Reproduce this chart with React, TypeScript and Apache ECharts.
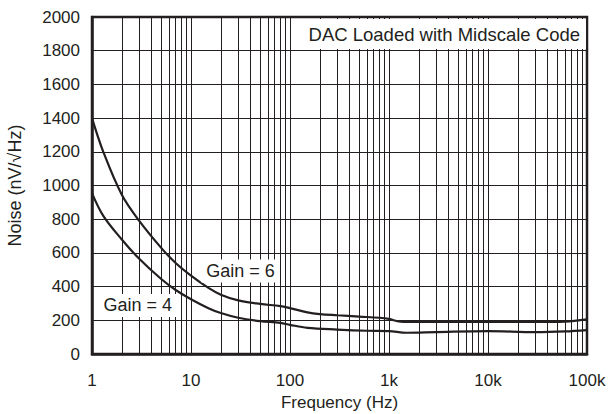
import React, { useEffect, useRef } from "react";
import * as echarts from "echarts";

const freqGain6 = [1, 1.3, 2, 3, 5, 7, 10, 15, 20, 30, 50, 80, 100, 150, 200, 300, 500, 800, 1000, 1300, 2000, 5000, 10000, 30000, 60000, 100000];
const noiseGain6 = [1400, 1200, 945, 790, 630, 540, 465, 392, 352, 318, 297, 284, 272, 247, 237, 230, 222, 215, 208, 192, 190, 190, 190, 190, 192, 205];

const freqGain4 = [1, 1.3, 2, 3, 5, 7, 10, 15, 20, 30, 50, 80, 100, 150, 300, 600, 1000, 1500, 3000, 10000, 30000, 60000, 100000];
const noiseGain4 = [955, 820, 680, 565, 445, 380, 325, 272, 243, 215, 195, 185, 173, 155, 145, 138, 136, 126, 130, 136, 130, 134, 142];

const xTickValues = [1, 10, 100, 1000, 10000, 100000];
const xTickLabels = ["1", "10", "100", "1k", "10k", "100k"];
const decades = [1, 10, 100, 1000, 10000];
const minorMultipliers = [2, 3, 4, 5, 6, 7, 8, 9];

const curveLabels = [
  { name: "Gain = 6", value: [31.6, 492] },
  { name: "Gain = 4", value: [2.9, 288] },
];

const TXT = "#231f20";
const FONT = "'Liberation Sans', Arial, Helvetica, sans-serif";

export default function App() {
  const ref = useRef<HTMLDivElement>(null);
  useEffect(() => {
    if (!ref.current) return;
    const chart = echarts.init(ref.current, undefined, { renderer: "svg" });
    const minorLines: any[] = [];
    decades.forEach((d) => minorMultipliers.forEach((m) => minorLines.push({ xAxis: d * m })));
    const toPairs = (xs: number[], ys: number[]) => xs.map((x, i) => [x, ys[i]]);
    chart.setOption({
      animation: false,
      textStyle: { fontFamily: FONT, color: TXT },
      title: {
        text: "DAC Loaded with Midscale Code",
        right: 25,
        top: 19,
        backgroundColor: "#fff",
        padding: [6, 6, 5, 6],
        textStyle: { fontFamily: FONT, fontSize: 18.5, fontWeight: "normal", color: TXT },
      },
      grid: {
        left: 92,
        right: 24,
        top: 17,
        bottom: 60,
        show: true,
        borderColor: TXT,
        borderWidth: 2.5,
        backgroundColor: "#fff",
        outerBoundsMode: "none",
        containLabel: false,
      },
      xAxis: {
        type: "log",
        logBase: 10,
        min: 1,
        max: 100000,
        name: "Frequency (Hz)",
        nameLocation: "middle",
        nameGap: 38,
        nameTextStyle: { fontFamily: FONT, fontSize: 17, color: TXT },
        axisLine: { show: true, lineStyle: { color: TXT, width: 2.5 } },
        axisTick: { show: false },
        axisLabel: {
          fontFamily: FONT,
          fontSize: 17,
          color: TXT,
          margin: 18,
          formatter: (v: number) => {
            const i = xTickValues.findIndex((t) => Math.abs(t - v) / t < 1e-6);
            return i >= 0 ? xTickLabels[i] : "";
          },
        },
        splitLine: { show: true, lineStyle: { color: TXT, width: 1 } },
      },
      yAxis: {
        type: "value",
        min: 0,
        max: 2000,
        interval: 200,
        name: "Noise (nV/√Hz)",
        nameLocation: "middle",
        nameGap: 68,
        nameTextStyle: { fontFamily: FONT, fontSize: 18, color: TXT },
        axisLine: { show: true, lineStyle: { color: TXT, width: 2.5 } },
        axisTick: { show: false },
        axisLabel: { fontFamily: FONT, fontSize: 17, color: TXT, margin: 12, formatter: (v: number) => String(v) },
        splitLine: { show: true, lineStyle: { color: TXT, width: 1 } },
      },
      series: [
        {
          type: "line",
          name: "Gain = 6",
          data: toPairs(freqGain6, noiseGain6),
          smooth: 0.35,
          showSymbol: false,
          z: 3,
          lineStyle: { color: TXT, width: 2.2 },
          markLine: {
            silent: true,
            symbol: ["none", "none"],
            label: { show: false },
            lineStyle: { color: TXT, width: 1, type: "solid" },
            emphasis: { disabled: true },
            data: minorLines,
            z: 1,
          },
        },
        {
          type: "line",
          name: "Gain = 4",
          data: toPairs(freqGain4, noiseGain4),
          smooth: 0.35,
          showSymbol: false,
          z: 3,
          lineStyle: { color: TXT, width: 2.2 },
        },
        {
          type: "scatter",
          z: 5,
          symbolSize: 0,
          silent: true,
          itemStyle: { opacity: 1 },
          data: curveLabels,
          label: {
            show: true,
            position: "inside",
            formatter: (p: any) => p.name,
            backgroundColor: "#fff",
            padding: [3, 5, 2, 5],
            fontFamily: FONT,
            fontSize: 18,
            color: TXT,
            opacity: 1,
          },
        },
      ],
    });
    return () => chart.dispose();
  }, []);
  return (
    <div
      ref={ref}
      style={{ position: "fixed", left: 0, top: 0, width: 611, height: 414, background: "#fff" }}
    />
  );
}
